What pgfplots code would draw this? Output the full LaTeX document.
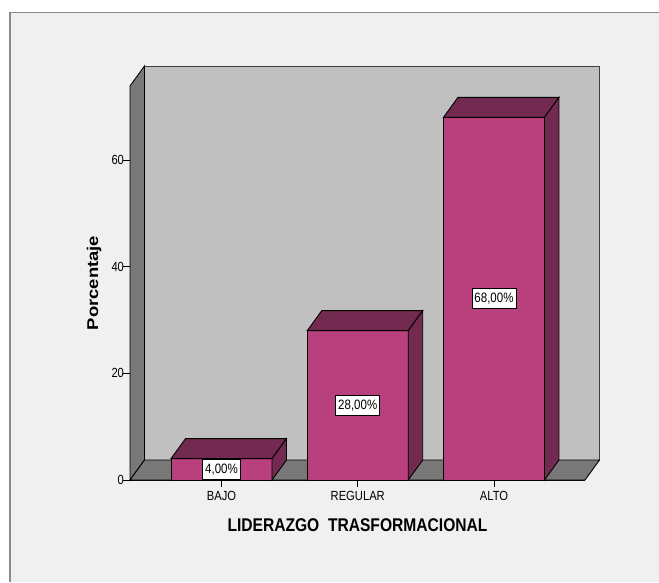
\documentclass[border=0pt]{standalone}
\usepackage{pgfplots}
\pgfplotsset{compat=1.18}
\usepackage{pgfplotstable}
\usepackage{graphicx}
\usepackage{fontspec}
\setmainfont{Liberation Sans}

\definecolor{fondo}{HTML}{F0F0F0}
\definecolor{marco}{HTML}{8A8A8A}
\definecolor{pared}{HTML}{C0C0C0}
\definecolor{lado}{HTML}{787878}
\definecolor{barra}{HTML}{B8407C}
\definecolor{barraosc}{HTML}{732A50}

% text in the chart is drawn slightly taller than wide
\newcommand{\st}[1]{\scalebox{1}[1.18]{#1}}

\tikzset{etiqueta/.style={draw=black, fill=white, line width=0.6pt,
    inner xsep=2.5pt, inner ysep=4.5pt,
    font=\fontsize{11.5}{12}\selectfont}}

% porcentaje por nivel
\pgfplotstableread{
x v
0 4
1 28
2 68
}\datos

% depth of the 3D effect and half bar width
\def\dx{14.5pt}
\def\dy{20pt}
\def\hw{50.5pt}

\begin{document}
\begin{tikzpicture}
\path[use as bounding box] (0,0) rectangle (659pt,582pt);
\fill[white] (0,0) rectangle (659pt,582pt);
\fill[fondo] (9pt,0) rectangle (659pt,570pt);
\draw[marco, line width=1.5pt] (9.75pt,0) -- (9.75pt,569.25pt) -- (659pt,569.25pt);
\begin{axis}[
  at={(130pt,102pt)}, anchor=south west,
  width=455pt, height=394pt, scale only axis,
  xmin=-0.6716, xmax=2.668, ymin=0, ymax=73.875,
  clip=false,
  axis x line*=bottom, axis y line*=left,
  axis line style={black, line width=0.9pt},
  xtick={0,1,2},
  xticklabels={\st{BAJO},\st{REGULAR},\st{ALTO}},
  ytick={0,20,40,60},
  yticklabel={\st{\pgfmathprintnumber[assume math mode=true]{\tick}}},
  tick align=outside, major tick length=6.5pt,
  tick style={black, line width=0.9pt},
  ticklabel style={font=\fontsize{11.2}{12}\selectfont},
  yticklabel style={xshift=4pt},
  xticklabel style={yshift=-1.5pt},
  xlabel={\st{LIDERAZGO\ \ TRASFORMACIONAL}},
  xlabel style={font=\bfseries\fontsize{15.6}{18}\selectfont,
    at={([yshift=-45pt]axis description cs:0.5,0)}, anchor=center},
  ylabel={\scalebox{1.18}[1]{Porcentaje}},
  ylabel style={font=\bfseries\fontsize{15.6}{18}\selectfont,
    at={([xshift=-35.8pt]axis description cs:0,0.5)}, anchor=center},
]
% back wall, left wall and floor
\filldraw[fill=pared, draw=black!75, line width=0.9pt]
  ([shift={(\dx,\dy)}]rel axis cs:0,0) rectangle ([shift={(\dx,\dy)}]rel axis cs:1,1);
\filldraw[fill=lado, draw=black, line width=0.9pt]
  (rel axis cs:0,0) -- ([shift={(\dx,\dy)}]rel axis cs:0,0)
  -- ([shift={(\dx,\dy)}]rel axis cs:0,1) -- (rel axis cs:0,1) -- cycle;
\filldraw[fill=lado, draw=black, line width=0.9pt]
  (rel axis cs:0,0) -- ([shift={(\dx,\dy)}]rel axis cs:0,0)
  -- ([shift={(\dx,\dy)}]rel axis cs:1,0) -- (rel axis cs:1,0) -- cycle;

% front faces of the bars
\addplot[ybar, bar width=101pt, fill=barra, draw=black, line width=0.9pt]
  table[x=x, y=v] {\datos};

% top and side faces, and the value label of each bar
\pgfplotsinvokeforeach{0,1,2}{
  \pgfplotstablegetelem{#1}{v}\of\datos
  \let\val\pgfplotsretval
  \pgfmathsetmacro\mitad{\val/2}
  \edef\caras{%
    \noexpand\filldraw[fill=barraosc, draw=black, line width=0.9pt]
      ([xshift=-\hw]axis cs:#1,\val) -- ([xshift=\hw]axis cs:#1,\val)
      -- ([shift={(\hw+\dx,\dy)}]axis cs:#1,\val)
      -- ([shift={(-\hw+\dx,\dy)}]axis cs:#1,\val) -- cycle;
    \noexpand\filldraw[fill=barraosc, draw=black, line width=0.9pt]
      ([xshift=\hw]axis cs:#1,0) -- ([xshift=\hw]axis cs:#1,\val)
      -- ([shift={(\hw+\dx,\dy)}]axis cs:#1,\val)
      -- ([shift={(\hw+\dx,\dy)}]axis cs:#1,0) -- cycle;
    \noexpand\node[etiqueta] at (axis cs:#1,\mitad)
      {\noexpand\st{\noexpand\pgfmathprintnumber[fixed,fixed zerofill,precision=2,use comma,assume math mode=true]{\val}\noexpand\%}};
  }\caras
}
\end{axis}
\end{tikzpicture}
\end{document}
